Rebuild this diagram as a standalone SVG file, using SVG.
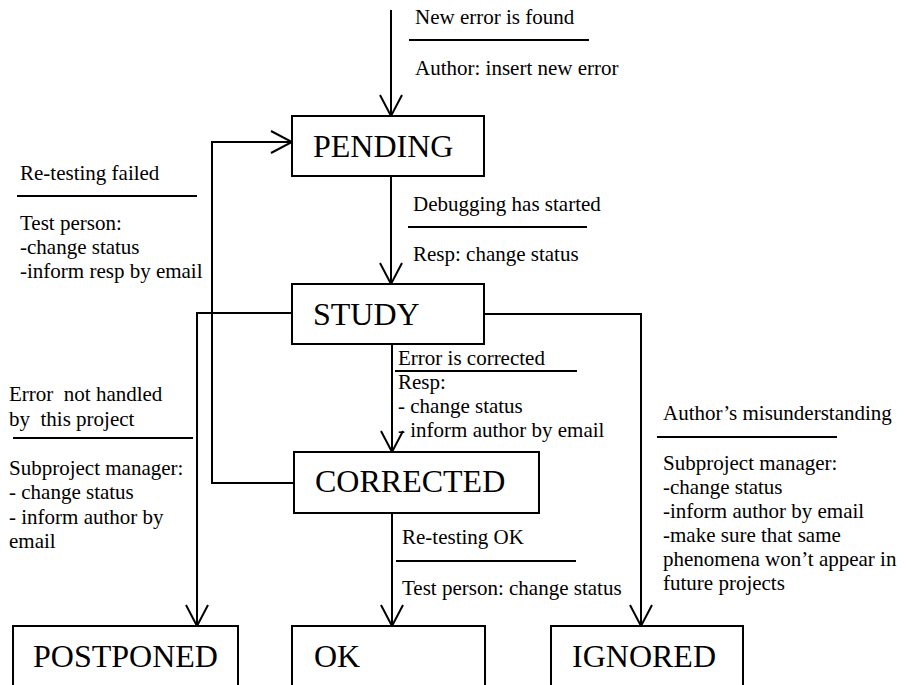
<svg xmlns="http://www.w3.org/2000/svg" width="906" height="685" viewBox="0 0 906 685">
  <style>
    .box { fill: #fff; stroke: #000; stroke-width: 2; }
    .state { font-family: "Liberation Serif", "Times New Roman", serif; font-size: 32px; fill: #000; }
    .lbl { font-family: "Liberation Serif", "Times New Roman", serif; font-size: 21px; fill: #000; }
    .wire { fill: none; stroke: #000; stroke-width: 2; }
    .rule { stroke: #000; stroke-width: 2; }
  </style>
  <defs>
    <marker id="open" viewBox="-23 -12 25 24" refX="0" refY="0" markerWidth="25" markerHeight="24" markerUnits="userSpaceOnUse" orient="auto">
      <path d="M-21,-11 L0,0 L-21,11" fill="none" stroke="#000" stroke-width="2"/>
    </marker>
  </defs>
  <rect width="906" height="685" fill="#fff"/>

  <!-- transitions -->
  <g id="connectors">
    <line class="wire" x1="391" y1="10" x2="391" y2="116" marker-end="url(#open)"/>
    <line class="wire" x1="391" y1="176" x2="391" y2="284" marker-end="url(#open)"/>
    <line class="wire" x1="392" y1="344" x2="392" y2="452" marker-end="url(#open)"/>
    <line class="wire" x1="392" y1="513" x2="392" y2="626" marker-end="url(#open)"/>
    <polyline class="wire" points="292,313 197,313 197,626" marker-end="url(#open)"/>
    <polyline class="wire" points="484,314 641,314 641,626" marker-end="url(#open)"/>
    <polyline class="wire" points="294,483 212,483 212,142 292,142" marker-end="url(#open)"/>
  </g>

  <!-- transition labels -->
  <g id="labels">
    <text class="lbl" x="415" y="24">New error is found</text>
    <line class="rule" x1="409" y1="40" x2="589" y2="40"/>
    <text class="lbl" x="415" y="75">Author: insert new error</text>

    <text class="lbl" x="413" y="211">Debugging has started</text>
    <line class="rule" x1="408" y1="227" x2="587" y2="227"/>
    <text class="lbl" x="413" y="261">Resp: change status</text>

    <text class="lbl" x="20" y="180">Re-testing failed</text>
    <line class="rule" x1="17" y1="196" x2="197" y2="196"/>
    <text class="lbl" x="20" y="230">Test person:</text>
    <text class="lbl" x="20" y="254">-change status</text>
    <text class="lbl" x="20" y="278">-inform resp by email</text>

    <text class="lbl" x="398" y="365">Error is corrected</text>
    <line class="rule" x1="395" y1="371" x2="577" y2="371"/>
    <text class="lbl" x="398" y="389">Resp:</text>
    <text class="lbl" x="398" y="413">- change status</text>
    <text class="lbl" x="398" y="437">- inform author by email</text>

    <text class="lbl" x="9" y="401" xml:space="preserve">Error  not handled</text>
    <text class="lbl" x="9" y="426" xml:space="preserve">by  this project</text>
    <line class="rule" x1="13" y1="438" x2="193" y2="438"/>
    <text class="lbl" x="9" y="475">Subproject manager:</text>
    <text class="lbl" x="9" y="499">- change status</text>
    <text class="lbl" x="9" y="524">- inform author by</text>
    <text class="lbl" x="9" y="548">email</text>

    <text class="lbl" x="402" y="544">Re-testing OK</text>
    <line class="rule" x1="396" y1="561" x2="576" y2="561"/>
    <text class="lbl" x="402" y="595">Test person: change status</text>

    <text class="lbl" x="663" y="420">Author’s misunderstanding</text>
    <line class="rule" x1="657" y1="437" x2="837" y2="437"/>
    <text class="lbl" x="663" y="470">Subproject manager:</text>
    <text class="lbl" x="663" y="494">-change status</text>
    <text class="lbl" x="663" y="518">-inform author by email</text>
    <text class="lbl" x="663" y="542">-make sure that same</text>
    <text class="lbl" x="663" y="566">phenomena won’t appear in</text>
    <text class="lbl" x="663" y="590">future projects</text>
  </g>

  <!-- states -->
  <g id="pending">
    <rect class="box" x="292" y="116" width="192" height="60"/>
    <text class="state" x="313" y="157">PENDING</text>
  </g>
  <g id="study">
    <rect class="box" x="292" y="284" width="192" height="60"/>
    <text class="state" x="313" y="325">STUDY</text>
  </g>
  <g id="corrected">
    <rect class="box" x="294" y="452" width="245" height="61"/>
    <text class="state" x="315" y="492">CORRECTED</text>
  </g>
  <g id="postponed">
    <rect class="box" x="13" y="626" width="225" height="80"/>
    <text class="state" x="33" y="667">POSTPONED</text>
  </g>
  <g id="ok">
    <rect class="box" x="292" y="626" width="193" height="80"/>
    <text class="state" x="314" y="667">OK</text>
  </g>
  <g id="ignored">
    <rect class="box" x="551" y="626" width="192" height="80"/>
    <text class="state" x="572" y="667">IGNORED</text>
  </g>
</svg>
